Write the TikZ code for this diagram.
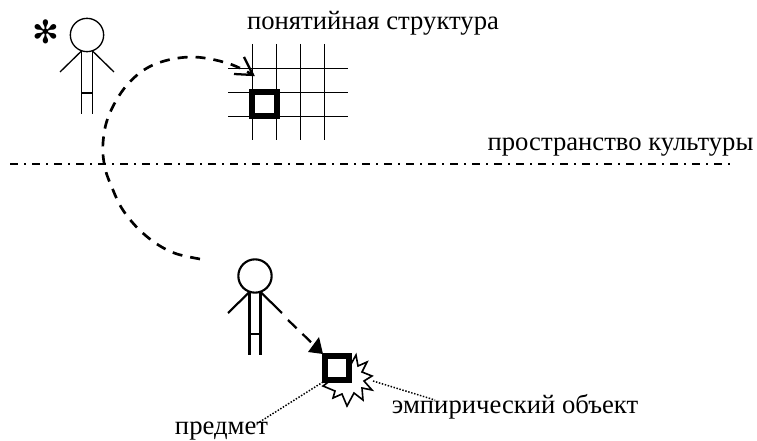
\documentclass[tikz,border=0pt]{standalone}
\usepackage{fontspec}
\setmainfont{Liberation Serif}
\newfontfamily\symfont{DejaVu Sans}
\usetikzlibrary{arrows.meta}
\tikzset{
  x=0.75pt,y=-0.75pt,
  label text/.style={font=\fontsize{20}{24}\selectfont,inner sep=0pt},
  thick square/.style={draw=black,line width=4.4pt,fill=white,minimum size=18.4pt,inner sep=0pt},
  arc dash/.style={draw=black,line width=2pt,dash pattern=on 7.5pt off 6pt},
  dot line/.style={draw=black,line width=1.1pt,dash pattern=on 1.1pt off 1.2pt},
}
\newcommand{\stickfigure}[3]{%
  \node[circle,draw=black,line width=#3,minimum size=25pt,inner sep=0pt] (head#1) at (#2) {};
  \begin{scope}[shift={(#2)},line width=#3]
    \draw (-5.5,16) -- (-5.5,79) (5.5,16) -- (5.5,79) (-5.5,58) -- (5.5,58);
    \draw (-5.5,16) -- (-27,37) (5.5,16) -- (27,37);
  \end{scope}}
\begin{document}
\begin{tikzpicture}
\useasboundingbox (0,0) rectangle (757,441);
\stickfigure{A}{87,35}{1pt}
\stickfigure{B}{255,276}{1.6pt}
\node[inner sep=0pt,font=\fontsize{24}{24}\selectfont\symfont] (star) at (46,31.5) {✻};
\node[label text,anchor=base] (t1) at (373,30) {понятийная структура};
\node[label text,anchor=base] (t2) at (620.5,151) {пространство культуры};
\node[label text,anchor=base] (t3) at (515,414) {эмпирический объект};
\node[label text,anchor=base] (t4) at (221.5,435) {предмет};
\foreach \x in {252.5,276.5,300.5,324.5} \draw[line width=0.9pt] (\x,44) -- (\x,140);
\foreach \y in {68.5,92.5,116.5} \draw[line width=0.9pt] (228,\y) -- (348,\y);
\node[thick square] (sq1) at (264.5,104) {};
\coordinate (c0) at (200,259);
\coordinate (c1) at (253,75);
\draw[arc dash] plot[smooth,tension=0.6] coordinates {(c0) (177,254) (160,246) (145,235) (132,222) (121,207) (113,190) (105,168) (103,143) (109,115) (127,85) (153,65) (190,57) (227,63) (c1)};
\draw[black,line width=1.7pt] (244,57) -- (c1) -- (234,74);
\draw[line width=1.5pt,dash pattern=on 6pt off 4.5pt on 1.5pt off 4.5pt] (10,163.7) -- (732,163.7);
\path[draw=black,line width=1.2pt,fill=white]
 (350,366) -- (356,355) -- (358,366) -- (367,362) -- (362,372) -- (372,376) -- (364,381) -- (372,390)
 -- (362,388) -- (363,400) -- (354,393) -- (347,406) -- (342,394) -- (333,398) -- (335,391) -- (323,386) -- cycle;
\node[thick square] (sq2) at (337,368) {};
\coordinate (armB) at (288,320);
\draw[line width=1.7pt,dash pattern=on 9pt off 6pt] (armB) -- (315,346);
\draw[fill=black,draw=none] (323,354) -- (308,352) -- (319,337) -- cycle;
\coordinate (dA) at (323,382);
\coordinate (dAe) at (258,423);
\coordinate (dB) at (373,381);
\coordinate (dBe) at (435,400);
\draw[dot line] (dA) -- (dAe);
\draw[dot line] (dB) -- (dBe);
\end{tikzpicture}
\end{document}
